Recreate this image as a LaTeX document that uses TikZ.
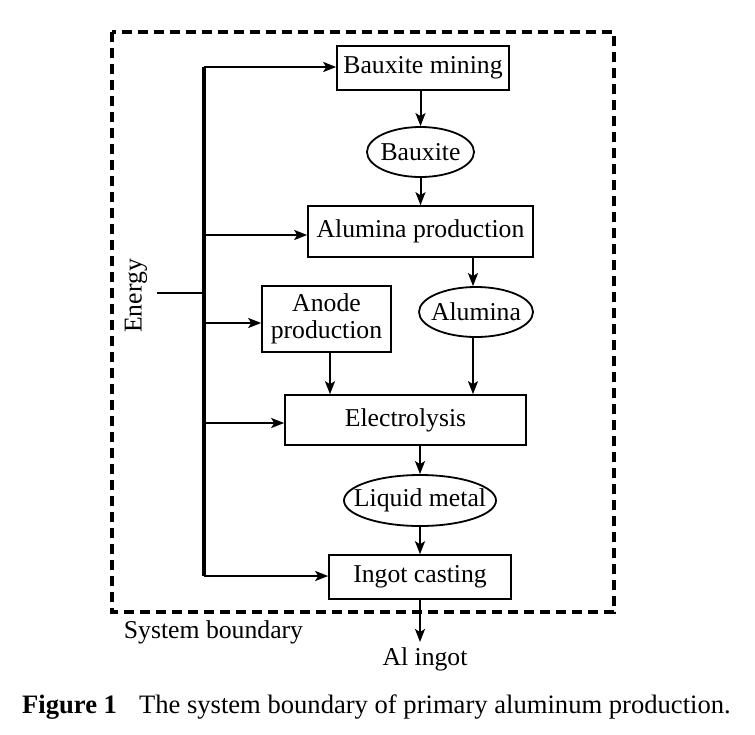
\documentclass[tikz,border=0pt]{standalone}
\usepackage{fontspec}
\setmainfont{Liberation Serif}
\usetikzlibrary{shapes.geometric,arrows.meta}
\begin{document}
\begin{tikzpicture}[x=1pt,y=-1pt,
  every node/.style={font=\fontsize{25.7}{27}\selectfont, inner sep=0pt},
  procbox/.style={draw, line width=1.6pt, rectangle, align=center},
  prodell/.style={draw, line width=1.8pt, ellipse},
  flow/.style={line width=2pt, -{Stealth[length=13pt,width=10pt,inset=3pt]}},
  feed/.style={line width=2.3pt, -{Stealth[length=13pt,width=10pt,inset=3pt]}},
  boundary/.style={line width=3.5pt, dash pattern=on 10pt off 6pt}]
\useasboundingbox (0,0) rectangle (755,734);
% system boundary
\draw[boundary] (112,32) rectangle (614,612);
% nodes
\node[procbox, minimum width=172pt, minimum height=44pt] (mining) at (423,68) {Bauxite mining};
\node[prodell, minimum width=107pt, minimum height=50pt] (bauxite) at (420.5,152) {};
\node (bauxiteT) at (bauxite) {Bauxite};
\node[procbox, minimum width=225pt, minimum height=51pt] (alprod) at (420.5,231.5) {Alumina production};
\node[procbox, minimum width=129pt, minimum height=66pt] (anode) at (326.5,319) {Anode\\production};
\node[prodell, minimum width=114pt, minimum height=50pt] (alumina) at (476,312) {};
\node (aluminaT) at (alumina) {Alumina};
\node[procbox, minimum width=241pt, minimum height=50pt] (electro) at (405.5,420) {Electrolysis};
\node[prodell, minimum width=152pt, minimum height=51pt] (liquid) at (420,500.5) {};
\node (liquidT) at (liquid) {Liquid metal};
\node[procbox, minimum width=182pt, minimum height=44pt] (ingot) at (420,577) {Ingot casting};
\node (alingot) at (425,659) {Al ingot};
\node (sysb) at (213.5,632) {System boundary};
\node[rotate=90] (energy) at (136,296) {Energy};
\node[anchor=west, font=\fontsize{26.6}{28}\selectfont] (caption) at (22,707) {\textbf{Figure 1}\hspace{22pt}The system boundary of primary aluminum production.};
% coordinates
\coordinate (btop) at (204,67);
\coordinate (bal) at (204,235);
\coordinate (bmid) at (204,293);
\coordinate (ban) at (204,323);
\coordinate (bel) at (204,423);
\coordinate (bbot) at (204,576);
\coordinate (estart) at (157,293);
\coordinate (aout) at (420,642);
% energy bus
\draw[line width=3.5pt] (btop) -- (bbot);
\draw[line width=2.3pt] (estart) -- (bmid);
\draw[feed] (btop) -- (btop -| mining.west);
\draw[feed] (bal) -- (bal -| alprod.west);
\draw[feed] (ban) -- (ban -| anode.west);
\draw[feed] (bel) -- (bel -| electro.west);
\draw[feed] (bbot) -- (bbot -| ingot.west);
% flows
\draw[flow] (mining.south -| bauxite.north) -- (bauxite.north);
\draw[flow] (bauxite.south) -- (bauxite.south |- alprod.north);
\draw[flow] (alprod.south -| 473,0) -- (alumina.north -| 473,0);
\draw[flow] (anode.south -| 330,0) -- (electro.north -| 330,0);
\draw[flow] (alumina.south -| 473,0) -- (electro.north -| 473,0);
\draw[flow] (electro.south -| liquid.north) -- (liquid.north);
\draw[flow] (liquid.south) -- (liquid.south |- ingot.north);
\draw[flow] (ingot.south) -- (aout);
\end{tikzpicture}
\end{document}
